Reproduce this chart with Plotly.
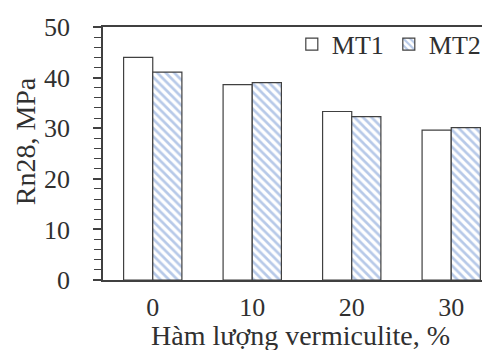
import plotly.graph_objects as go

categories = ["0", "10", "20", "30"]
mt1 = [44.0, 38.6, 33.3, 29.6]
mt2 = [41.1, 39.0, 32.3, 30.1]

FONT = "Liberation Serif, Times New Roman, serif"
TXT = "#303030"
LINE = "#404040"

fig = go.Figure()
fig.add_trace(go.Bar(
    x=categories, y=mt1, name="MT1",
    marker=dict(color="white", line=dict(color=LINE, width=1.2)),
))
fig.add_trace(go.Bar(
    x=categories, y=mt2, name="MT2",
    marker=dict(color="white", line=dict(color=LINE, width=1.2),
                pattern=dict(shape="\\", fgcolor="#6F94D2", bgcolor="white",
                             size=6, solidity=0.45)),
))

fig.update_layout(
    width=490, height=350,
    margin=dict(l=95, r=0, t=19, b=78, autoexpand=False),
    paper_bgcolor="white", plot_bgcolor="white",
    barmode="group", bargap=0.414, bargroupgap=0,
    font=dict(family=FONT, size=26, color=TXT),
    showlegend=True,
    legend=dict(orientation="h", x=0.478, xanchor="left", y=1.025, yanchor="top",
                bgcolor="rgba(0,0,0,0)", font=dict(size=26, color=TXT),
                itemwidth=30, tracegroupgap=0),
    xaxis=dict(
        type="category", range=[-0.5, 3.47],
        showline=True, linecolor=LINE, linewidth=1.5, mirror=True,
        ticks="", showgrid=False,
        ticklabelstandoff=3,
        tickfont=dict(size=26, color=TXT),
    ),
    yaxis=dict(
        range=[0, 50], dtick=10,
        showline=True, linecolor=LINE, linewidth=1.5, mirror=False,
        ticks="outside", ticklen=8, tickwidth=1.5, tickcolor=LINE,
        minor=dict(dtick=2, ticks="outside", ticklen=7, tickwidth=1, tickcolor=LINE),
        showgrid=False, zeroline=False,
        ticklabelstandoff=18,
        tickfont=dict(size=26, color=TXT),
    ),
    annotations=[
        dict(text="Rn28, MPa", textangle=-90, xref="paper", yref="paper",
             x=-0.197, y=0.549, xanchor="center", yanchor="middle", showarrow=False,
             font=dict(size=28, color=TXT)),
        dict(text="Hàm lượng vermiculite, %", xref="paper", yref="paper",
             x=0.5, y=-0.218, xanchor="center", yanchor="middle", showarrow=False,
             font=dict(size=28, color=TXT)),
    ],
)

fig.write_html("out.html")
